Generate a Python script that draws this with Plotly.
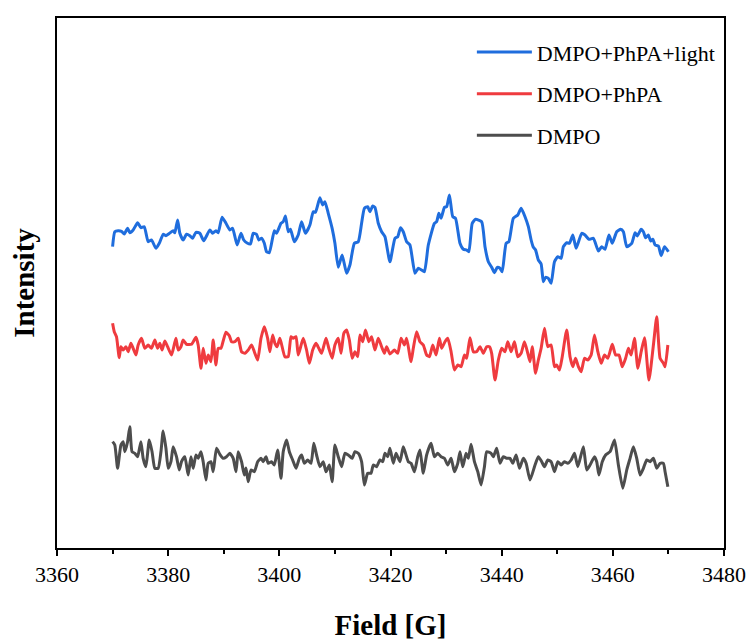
import plotly.graph_objects as go

# ---- data (Field in G, Intensity in arbitrary units) ----
light_field = [3370.0, 3370.4, 3371.0, 3371.6, 3372.1, 3372.7, 3373.1, 3373.7, 3374.5, 3375.1,
               3375.7, 3376.4, 3377.0, 3377.8, 3378.4, 3379.1, 3379.6, 3380.0, 3380.9, 3381.2,
               3381.7, 3382.1, 3382.7, 3383.3, 3383.9, 3384.4, 3385.0, 3385.7, 3386.4, 3387.5,
               3388.0, 3388.6, 3389.0, 3389.7, 3390.4, 3391.1, 3391.6, 3392.4, 3393.1, 3393.6,
               3394.2, 3394.8, 3395.3, 3395.9, 3396.3, 3396.8, 3397.3, 3397.7, 3398.2, 3399.1,
               3399.5, 3400.3, 3400.7, 3401.1, 3401.6, 3402.0, 3402.7, 3403.4, 3404.0, 3404.7,
               3405.5, 3406.1, 3406.5, 3407.3, 3407.8, 3408.2, 3408.8, 3409.5, 3410.0, 3410.6,
               3411.3, 3412.1, 3412.7, 3413.5, 3414.2, 3414.8, 3415.3, 3415.9, 3416.3, 3416.8,
               3417.2, 3417.8, 3418.4, 3419.0, 3419.9, 3420.8, 3421.3, 3421.8, 3422.3, 3422.9,
               3423.5, 3424.4, 3425.0, 3425.6, 3426.1, 3426.8, 3427.9, 3428.3, 3428.7, 3429.1,
               3429.7, 3430.1, 3430.6, 3431.2, 3431.7, 3432.5, 3433.1, 3433.7, 3434.1, 3434.7,
               3435.3, 3436.4, 3437.0, 3437.6, 3438.2, 3438.7, 3439.2, 3439.7, 3440.1, 3440.8,
               3441.3, 3442.1, 3442.9, 3443.5, 3444.2, 3444.8, 3445.3, 3445.7, 3446.1, 3446.6,
               3447.1, 3447.5, 3447.9, 3448.4, 3448.9, 3449.5, 3450.1, 3450.7, 3451.1, 3451.7,
               3452.2, 3452.8, 3453.4, 3454.4, 3455.0, 3455.7, 3456.5, 3457.4, 3458.0, 3458.6,
               3459.3, 3459.9, 3460.7, 3461.4, 3461.9, 3462.5, 3463.4, 3464.0, 3464.4, 3465.1,
               3465.5, 3465.9, 3466.4, 3466.8, 3467.2, 3467.6, 3468.2, 3468.7, 3469.3, 3470.0]
light_int = [301.3, 316.3, 317.3, 316.7, 314.0, 319.7, 315.3, 318.0, 325.3, 320.3,
             321.3, 306.3, 308.0, 299.7, 304.7, 313.7, 312.3, 313.7, 317.3, 315.3,
             328.0, 314.7, 308.0, 313.7, 312.3, 309.7, 315.7, 314.7, 307.3, 318.0,
             314.7, 317.3, 315.3, 330.7, 324.7, 318.0, 319.7, 303.0, 314.7, 308.0,
             305.0, 304.0, 314.7, 313.7, 308.0, 309.7, 304.7, 296.3, 295.3, 317.3,
             314.7, 324.7, 326.3, 332.0, 316.3, 318.7, 306.3, 313.0, 326.3, 314.7,
             323.0, 336.3, 335.7, 350.3, 343.0, 346.3, 334.7, 319.7, 304.7, 280.7,
             293.0, 274.7, 283.0, 304.7, 306.3, 324.7, 339.7, 341.3, 336.3, 342.0,
             340.7, 324.7, 316.3, 311.3, 286.3, 309.7, 311.3, 320.3, 316.3, 306.3,
             303.0, 274.7, 279.7, 278.0, 276.3, 303.0, 324.7, 326.3, 334.7, 329.7,
             340.7, 341.3, 353.0, 331.3, 329.7, 304.7, 298.7, 298.0, 296.3, 324.7,
             328.7, 326.3, 301.3, 286.3, 280.7, 275.3, 280.7, 279.7, 276.3, 304.7,
             306.3, 329.7, 333.0, 339.7, 331.3, 321.3, 308.0, 300.7, 298.0, 288.0,
             284.0, 266.3, 270.7, 269.7, 264.7, 286.3, 291.3, 289.7, 301.3, 305.3,
             304.7, 313.0, 299.7, 314.7, 313.0, 308.7, 309.7, 297.0, 301.3, 298.7,
             313.0, 304.7, 316.3, 318.7, 316.3, 301.3, 304.7, 315.3, 312.0, 318.7,
             316.3, 310.3, 313.0, 307.0, 308.7, 303.0, 302.0, 292.3, 301.3, 296.3]

phpa_field = [3370.0, 3370.3, 3370.7, 3371.2, 3371.5, 3371.9, 3372.4, 3372.8, 3373.3, 3373.7,
              3374.2, 3374.6, 3375.2, 3375.8, 3376.4, 3377.0, 3377.6, 3378.1, 3378.5, 3378.9,
              3379.4, 3379.9, 3380.6, 3381.4, 3381.8, 3382.3, 3382.7, 3383.3, 3384.2, 3385.0,
              3385.4, 3385.9, 3386.3, 3386.8, 3387.2, 3387.7, 3388.1, 3388.6, 3389.0, 3389.5,
              3389.9, 3390.4, 3391.0, 3391.4, 3392.0, 3392.6, 3393.2, 3393.8, 3394.4, 3395.0,
              3395.5, 3396.1, 3396.7, 3397.3, 3397.9, 3398.3, 3398.8, 3399.2, 3399.6, 3400.1,
              3401.0, 3401.6, 3402.1, 3402.5, 3403.0, 3403.4, 3404.3, 3404.9, 3405.4, 3406.0,
              3406.6, 3407.1, 3407.6, 3408.4, 3408.9, 3409.5, 3410.0, 3410.6, 3411.1, 3411.6,
              3412.1, 3412.6, 3413.1, 3413.6, 3414.1, 3414.5, 3415.0, 3415.5, 3416.1, 3416.6,
              3417.2, 3417.8, 3418.4, 3418.9, 3419.3, 3419.9, 3420.7, 3421.3, 3421.9, 3422.5,
              3422.9, 3423.7, 3424.1, 3424.7, 3425.3, 3425.9, 3426.5, 3427.0, 3427.6, 3428.2,
              3428.8, 3429.2, 3429.8, 3430.3, 3430.9, 3431.5, 3432.1, 3432.7, 3433.3, 3433.7,
              3434.3, 3434.9, 3435.5, 3436.1, 3436.7, 3437.3, 3437.8, 3438.2, 3438.8, 3439.4,
              3440.0, 3440.6, 3441.1, 3441.7, 3442.3, 3442.9, 3443.5, 3444.1, 3444.7, 3445.1,
              3445.5, 3446.1, 3446.6, 3447.1, 3447.7, 3448.3, 3448.9, 3449.5, 3449.9, 3450.4,
              3450.9, 3451.7, 3452.3, 3452.8, 3453.3, 3453.8, 3454.3, 3454.9, 3455.5, 3456.1,
              3456.7, 3457.3, 3457.9, 3458.5, 3459.1, 3459.9, 3460.5, 3461.1, 3461.7, 3462.3,
              3462.8, 3463.3, 3463.9, 3464.5, 3465.1, 3465.7, 3466.5, 3467.3, 3467.9, 3468.5,
              3469.1, 3469.4, 3469.9]
phpa_int = [224.7, 216.3, 211.3, 190.3, 201.3, 198.0, 201.3, 196.3, 204.7, 199.7,
            193.0, 203.0, 209.7, 199.7, 203.0, 199.7, 208.0, 199.7, 204.7, 198.0,
            207.0, 201.3, 193.0, 209.7, 198.0, 201.3, 208.0, 203.7, 203.7, 210.7,
            203.0, 179.7, 199.7, 184.7, 193.0, 186.3, 208.0, 183.0, 199.7, 199.7,
            207.0, 215.7, 212.3, 206.3, 206.3, 209.7, 196.3, 194.7, 198.0, 203.0,
            196.3, 188.0, 209.7, 221.3, 209.7, 196.3, 213.0, 204.7, 201.3, 209.7,
            191.3, 191.3, 211.3, 209.7, 211.3, 193.0, 209.7, 198.0, 184.7, 198.0,
            204.7, 199.7, 194.7, 209.7, 199.7, 189.7, 203.0, 209.7, 194.7, 214.7,
            218.0, 208.0, 189.7, 196.3, 191.3, 213.0, 206.3, 218.0, 206.3, 211.3,
            198.0, 209.7, 201.3, 194.7, 201.3, 194.0, 198.0, 194.7, 209.7, 203.0,
            209.7, 186.3, 199.7, 216.3, 206.3, 203.0, 193.0, 191.3, 203.0, 193.0,
            209.7, 199.7, 206.3, 209.7, 196.3, 178.0, 183.0, 181.3, 193.0, 189.7,
            210.3, 196.3, 196.3, 201.3, 194.7, 201.3, 201.3, 194.7, 168.0, 188.0,
            199.7, 196.3, 206.3, 196.3, 206.3, 191.3, 194.7, 206.3, 194.7, 186.3,
            201.3, 174.7, 188.0, 199.7, 219.7, 201.3, 203.0, 181.3, 183.0, 178.0,
            191.3, 218.0, 191.3, 181.3, 189.7, 181.3, 176.3, 189.7, 188.0, 193.0,
            213.0, 196.3, 184.7, 193.0, 189.7, 203.7, 193.0, 193.0, 181.3, 189.7,
            199.7, 193.0, 209.7, 179.7, 196.3, 210.3, 168.0, 203.0, 231.3, 189.7,
            184.7, 181.3, 203.0]

dmpo_field = [3370.0, 3370.4, 3370.9, 3371.5, 3371.9, 3372.2, 3372.7, 3373.1, 3373.5, 3374.0,
              3374.5, 3375.1, 3375.5, 3376.0, 3376.6, 3377.1, 3377.6, 3378.2, 3378.7, 3379.1,
              3379.6, 3380.0, 3380.5, 3380.9, 3381.5, 3382.0, 3382.4, 3383.0, 3383.6, 3384.1,
              3384.5, 3385.0, 3385.4, 3385.9, 3386.3, 3386.8, 3387.2, 3387.7, 3388.1, 3388.7,
              3389.3, 3389.9, 3390.5, 3391.1, 3391.7, 3392.2, 3392.6, 3393.2, 3393.7, 3394.0,
              3394.4, 3394.9, 3395.5, 3396.1, 3396.7, 3397.1, 3397.6, 3398.0, 3398.6, 3399.1,
              3399.7, 3400.3, 3400.7, 3401.3, 3401.8, 3402.4, 3403.0, 3403.6, 3404.0, 3404.5,
              3405.1, 3405.7, 3406.2, 3406.7, 3407.3, 3407.9, 3408.4, 3409.0, 3409.5, 3410.0,
              3410.6, 3411.2, 3411.8, 3412.4, 3413.1, 3413.6, 3414.2, 3414.8, 3415.3, 3415.9,
              3416.5, 3416.9, 3417.5, 3418.1, 3418.6, 3419.0, 3419.5, 3419.9, 3420.5, 3421.0,
              3421.7, 3422.3, 3422.7, 3423.2, 3423.7, 3424.3, 3424.9, 3425.3, 3425.9, 3426.5,
              3427.3, 3427.9, 3428.5, 3429.1, 3429.7, 3430.3, 3430.9, 3431.5, 3432.1, 3432.5,
              3433.0, 3433.6, 3434.0, 3434.5, 3435.1, 3435.7, 3436.3, 3436.9, 3437.3, 3438.1,
              3438.5, 3439.1, 3439.7, 3440.3, 3440.9, 3441.5, 3442.0, 3442.6, 3443.2, 3443.9,
              3444.4, 3445.1, 3446.0, 3446.6, 3447.2, 3447.7, 3448.3, 3448.9, 3449.5, 3450.1,
              3450.7, 3451.3, 3451.9, 3452.5, 3453.1, 3453.7, 3454.7, 3455.3, 3455.9, 3456.7,
              3457.1, 3457.5, 3458.1, 3458.7, 3459.5, 3460.3, 3461.0, 3461.8, 3462.5, 3463.1,
              3463.7, 3464.3, 3464.9, 3465.5, 3466.1, 3466.7, 3467.3, 3467.9, 3468.5, 3469.1,
              3469.4, 3469.9]
dmpo_int = [106.3, 103.0, 79.7, 103.0, 106.3, 96.3, 106.3, 121.3, 96.3, 94.7,
            91.3, 106.3, 89.7, 81.3, 108.0, 96.3, 79.7, 79.7, 96.3, 117.0,
            99.7, 79.7, 86.3, 101.3, 91.3, 78.0, 86.3, 91.3, 73.0, 91.3,
            79.7, 93.0, 89.7, 96.3, 86.3, 68.0, 84.7, 86.3, 76.3, 99.7,
            93.7, 89.7, 91.3, 94.7, 89.7, 76.3, 96.3, 86.3, 73.0, 80.0,
            66.3, 78.0, 76.3, 86.3, 89.7, 86.3, 91.3, 84.7, 86.3, 83.0,
            98.0, 69.7, 96.3, 108.0, 96.3, 88.0, 79.7, 89.7, 93.0, 84.7,
            88.0, 84.7, 104.7, 93.0, 81.3, 86.3, 76.3, 83.0, 66.3, 103.0,
            91.3, 81.3, 94.7, 93.0, 89.7, 96.3, 94.7, 86.3, 63.0, 74.7,
            74.7, 83.0, 81.3, 88.0, 86.3, 94.7, 91.3, 99.7, 84.7, 94.7,
            86.3, 101.3, 94.7, 86.3, 84.7, 76.3, 91.3, 98.0, 74.7, 93.0,
            104.7, 91.3, 94.7, 91.3, 89.7, 83.0, 89.7, 76.3, 84.7, 96.3,
            81.3, 94.7, 89.7, 103.7, 86.3, 76.3, 63.0, 81.3, 96.3, 94.7,
            91.3, 99.7, 84.7, 91.3, 89.7, 89.7, 84.7, 93.0, 79.7, 89.7,
            84.7, 68.0, 83.0, 91.3, 86.3, 81.3, 88.0, 86.3, 76.3, 86.3,
            83.0, 86.3, 84.7, 88.0, 94.7, 81.3, 101.3, 78.0, 83.0, 91.3,
            86.3, 73.0, 86.3, 93.0, 96.3, 108.0, 83.0, 59.7, 78.0, 89.7,
            101.3, 89.7, 73.0, 79.7, 88.0, 86.3, 89.7, 79.7, 84.7, 84.7,
            76.3, 61.3]

series_names = ["DMPO+PhPA+light", "DMPO+PhPA", "DMPO"]
series_colors = ["#1f6ddd", "#ef3b3f", "#4d4d4d"]

x_ticks = [3360, 3380, 3400, 3420, 3440, 3460, 3480]

fig = go.Figure()
for name, xs, ys, col in zip(series_names,
                             [light_field, phpa_field, dmpo_field],
                             [light_int, phpa_int, dmpo_int],
                             series_colors):
    fig.add_trace(go.Scatter(x=xs, y=ys, mode="lines", name=name, legendgroup=name,
                             line=dict(color=col, width=3, shape="spline", smoothing=0.5)))

font_family = "'Liberation Serif', 'Times New Roman', Times, serif"

fig.update_layout(
    width=748, height=635,
    margin=dict(l=49, r=32, t=10, b=95),
    paper_bgcolor="white", plot_bgcolor="white",
    font=dict(family=font_family, color="black", size=22),
    showlegend=True,
    legend=dict(x=0.622, y=0.975, xanchor="left", yanchor="top",
                font=dict(family=font_family, size=22, color="black"),
                bgcolor="rgba(0,0,0,0)", borderwidth=0,
                traceorder="grouped", tracegroupgap=10, itemwidth=55),
    xaxis=dict(range=[3360, 3480], tickvals=x_ticks, ticktext=[str(v) for v in x_ticks],
               showline=True, linecolor="black", linewidth=2, mirror=True,
               ticks="outside", ticklen=6, tickwidth=1.5, tickcolor="black",
               minor=dict(dtick=10, ticks="outside", ticklen=4, tickwidth=1.5, tickcolor="black"),
               showgrid=False, zeroline=False, automargin=False,
               tickfont=dict(family=font_family, size=22, color="black"),
               title=dict(text="<b>Field [G]</b>", font=dict(family=font_family, size=29), standoff=28)),
    yaxis=dict(range=[0, 530], showline=True, linecolor="black", linewidth=2, mirror=True,
               showticklabels=False, ticks="", showgrid=False, zeroline=False, automargin=False,
               title=dict(text="<b>Intensity</b>", font=dict(family=font_family, size=29), standoff=18)),
)

fig.write_html("out.html")
